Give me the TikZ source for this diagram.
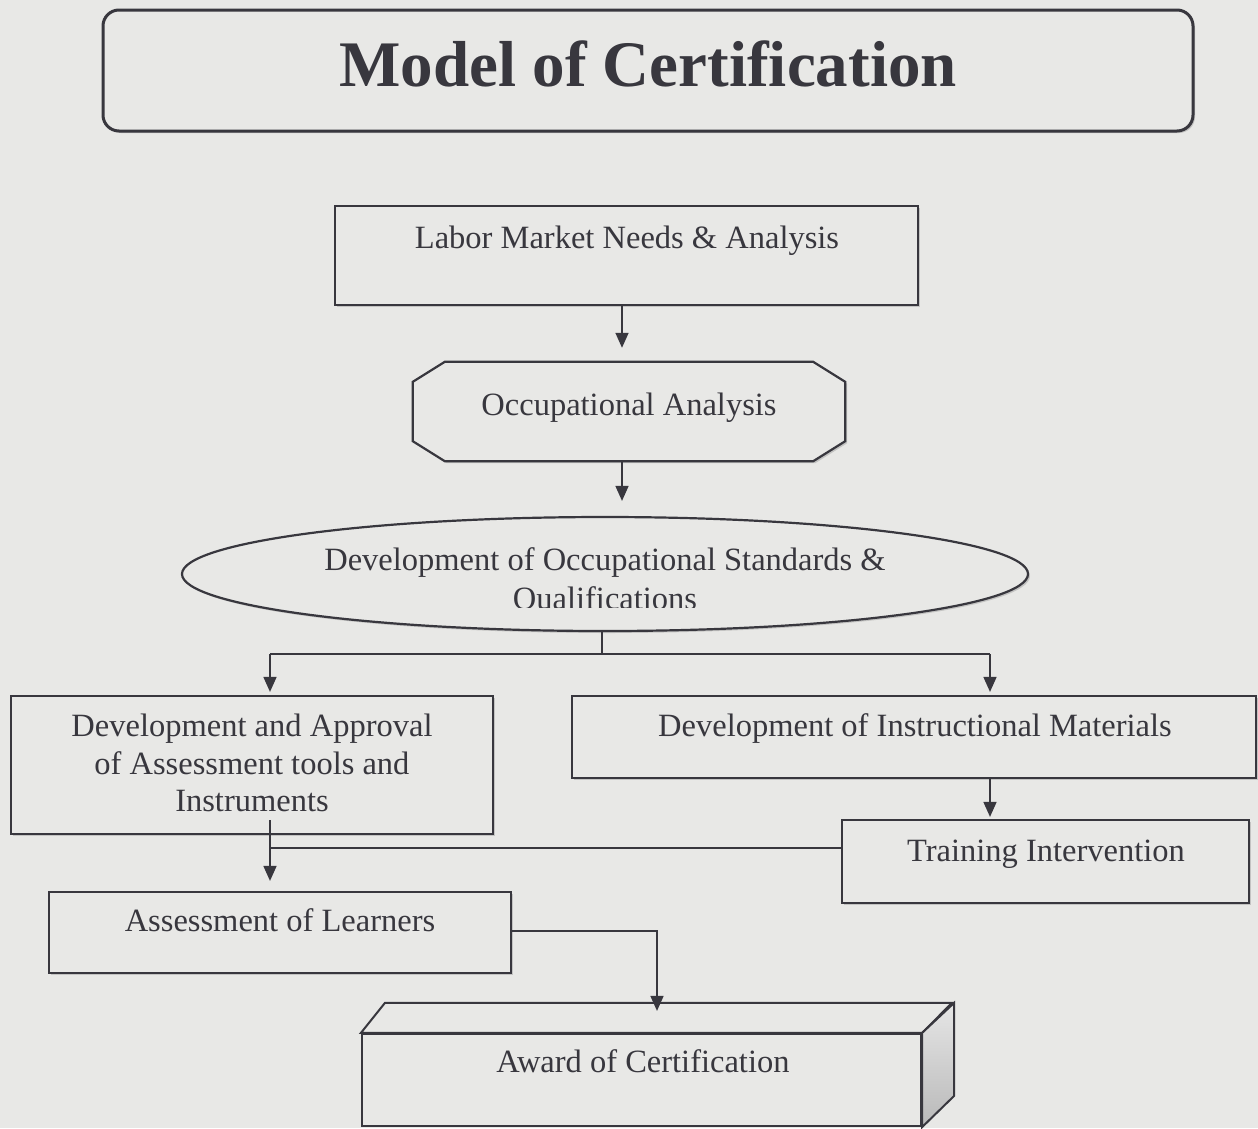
\documentclass[tikz,border=0pt]{standalone}
\usepackage{fontspec}
\setmainfont{Liberation Serif}
\usetikzlibrary{shapes.geometric,arrows.meta,shadows}

\definecolor{paper}{HTML}{E8E8E6}
\definecolor{ink}{HTML}{38373E}

\tikzset{
  box/.style={draw=ink, line width=2.2pt, fill=paper, inner sep=0pt},
  shade/.style={drop shadow={shadow xshift=2pt, shadow yshift=-2pt, opacity=.35}},
  txt/.style={text=ink, font=\fontsize{32.5}{37.5}\selectfont, align=center, inner sep=0pt, anchor=base},
  wire/.style={draw=ink, line width=1.6pt},
  arr/.style={wire, -{Triangle[width=13pt,length=15pt]}},
}

\begin{document}
\begin{tikzpicture}[x=1pt,y=-1pt]
    \useasboundingbox[fill=paper] (0,0) rectangle (1258,1128);

    % heading
    \node[box, shade, rounded corners=16pt, line width=3pt, minimum width=1090, minimum height=121] (head) at (648,70.5) {};
    \node[txt, font=\fontsize{65}{70}\selectfont\bfseries] (title) at (648,86) {Model of Certification};

    % boxes of the chain
    \node[box, shade, minimum width=583, minimum height=99] (labor) at (626.5,255.5) {};
    \node[txt] (laborT) at (627,248) {Labor Market Needs \& Analysis};

    % octagon, drawn round an empty node
    \node[minimum width=432, minimum height=99, inner sep=0pt] (occ) at (629,411.5) {};
    \draw[box, shade] ([xshift=32pt]occ.north west) -- ([xshift=-32pt]occ.north east)
        -- ([yshift=-20pt]occ.north east) -- ([yshift=20pt]occ.south east)
        -- ([xshift=-32pt]occ.south east) -- ([xshift=32pt]occ.south west)
        -- ([yshift=20pt]occ.south west) -- ([yshift=-20pt]occ.north west) -- cycle;
    \node[txt] (occT) at (629,415) {Occupational Analysis};

    \node[box, shade, ellipse, minimum width=846, minimum height=114] (ostd) at (605,574) {};
    \node[txt] (ostdT) at (605,570) {Development of Occupational Standards \&};
    \begin{scope}
        \clip (170,580) rectangle (1040,607);
        \node[txt] (qualT) at (605,609) {Qualifications};
    \end{scope}

    \node[box, shade, minimum width=482, minimum height=138] (appr) at (252,765) {};
    \node[txt, anchor=center] (apprT) at (252,763) {Development and Approval\\of Assessment tools and\\Instruments};

    \node[box, shade, minimum width=684, minimum height=82] (instr) at (914,737) {};
    \node[txt] (instrT) at (915,736) {Development of Instructional Materials};

    \node[box, shade, minimum width=407, minimum height=83] (train) at (1045.5,861.5) {};
    \node[txt] (trainT) at (1046,861) {Training Intervention};

    \node[box, shade, minimum width=462, minimum height=81] (assess) at (280,932.5) {};
    \node[txt] (assessT) at (280,931) {Assessment of Learners};

    % the block at the bottom
    \node[box, minimum width=559, minimum height=92] (award) at (641.5,1080) {};
    \draw[wire, line width=2pt, fill=paper] (award.north west) -- ++(24,-30) -- ++(567,0) -- (award.north east) -- cycle;
    \draw[wire, line width=2pt, top color=gray!20, bottom color=gray!55] (award.north east) -- ++(32,-30) -- ++(0,93) -- (award.south east) -- cycle;
    \node[txt] (awardT) at (643,1072) {Award of Certification};

    % connectors
    \coordinate (spine) at (622,0);
    \draw[arr, shorten >=14pt] (labor.south -| spine) -- (occ.north -| spine);
    \draw[arr, shorten >=15pt] (occ.south -| spine) -- (ostd.north -| spine);

    \coordinate (fork) at (602,654);
    \coordinate (forkL) at (270,654);
    \coordinate (forkR) at (990,654);
    \draw[wire] (fork |- ostd.south) -- (fork);
    \draw[wire] (forkL) -- (forkR);
    \draw[arr, shorten >=3pt] (forkL) -- (forkL |- appr.north);
    \draw[arr, shorten >=3pt] (forkR) -- (forkR |- instr.north);
    \draw[arr, shorten >=2pt] (forkR |- instr.south) -- (forkR |- train.north);

    \coordinate (drop) at (270,820);
    \coordinate (join) at (270,848);
    \draw[wire] (train.west |- join) -- (join);
    \draw[arr, shorten >=10pt] (drop) -- (drop |- assess.north);

    \coordinate (bend) at (657,931);
    \draw[arr, shorten >=22pt] (assess.east |- bend) -- (bend) -- (bend |- award.north);
\end{tikzpicture}
\end{document}
